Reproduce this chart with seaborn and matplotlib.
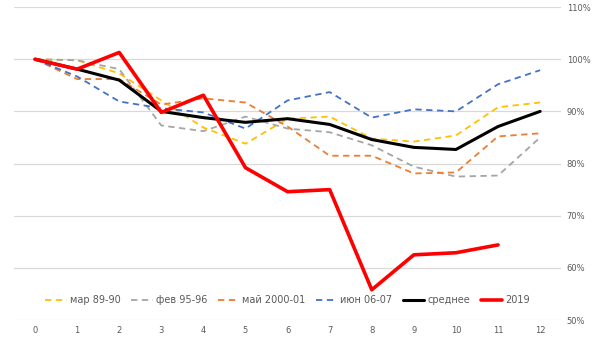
import matplotlib
matplotlib.use("Agg")
import matplotlib.pyplot as plt
import seaborn as sns
import pandas as pd
from matplotlib.ticker import FuncFormatter

months = list(range(13))
mar_89_90 = [100, 99.8, 97.3, 92.1, 86.9, 83.8, 88.6, 89.0, 84.8, 84.2, 85.4, 90.8, 91.7]
feb_95_96 = [100, 99.8, 98.1, 87.3, 86.2, 89.0, 86.7, 86.0, 83.5, 79.4, 77.5, 77.7, 85.0]
may_2000_01 = [100, 96.2, 96.2, 91.3, 92.5, 91.7, 87.1, 81.5, 81.5, 78.1, 78.3, 85.2, 85.8]
jun_06_07 = [100, 96.7, 91.9, 90.6, 89.8, 86.7, 92.1, 93.7, 88.8, 90.4, 90.0, 95.2, 97.9]
mean_vals = [100, 98.1, 96.0, 90.0, 88.8, 87.9, 88.6, 87.5, 84.6, 83.1, 82.7, 87.1, 90.0]
y2019 = [100, 98.1, 101.3, 89.8, 93.1, 79.2, 74.6, 75.0, 55.8, 62.5, 62.9, 64.4]

labels = ["мар 89-90", "фев 95-96", "май 2000-01", "июн 06-07", "среднее", "2019"]
series = [mar_89_90, feb_95_96, may_2000_01, jun_06_07, mean_vals, y2019]
colors = ["#FFC000", "#A5A5A5", "#ED7D31", "#4472C4", "#000000", "#FF0000"]
widths = [1.3, 1.3, 1.3, 1.3, 2.2, 2.6]
dashed = [True, True, True, True, False, False]
yticks = [50, 60, 70, 80, 90, 100, 110]

sns.set_theme(style="white")
plt.rcParams['font.family'] = ['DejaVu Sans']

fig = plt.figure(figsize=(6, 3.42), dpi=100)
ax = fig.add_axes([0.0233, 0.0643, 0.912, 0.915])

for lab, vals, c, w, d in zip(labels, series, colors, widths, dashed):
    df = pd.DataFrame({"m": months[:len(vals)], "v": vals})
    sns.lineplot(data=df, x="m", y="v", ax=ax, color=c, linewidth=w,
                 linestyle=(0, (3.5, 2.5)) if d else "-", label=lab)

ax.set_xlim(-0.5, 12.5)
ax.set_ylim(50, 110)
ax.set_xticks(months)
ax.set_yticks(yticks)
ax.yaxis.tick_right()
ax.yaxis.set_major_formatter(FuncFormatter(lambda v, p: f"{int(v)}%"))
ax.tick_params(axis="both", length=0, labelsize=6, colors="#595959", pad=4)
ax.grid(axis="y", color="#D9D9D9", linewidth=0.9)
ax.grid(axis="x", visible=False)
for s in ax.spines.values():
    s.set_visible(False)
ax.set_xlabel("")
ax.set_ylabel("")

leg = ax.legend(loc="lower center", bbox_to_anchor=(0.5, 0.02), ncol=6, frameon=False,
                fontsize=7, handlelength=2.2, columnspacing=1.1, handletextpad=0.3,
                labelcolor="#595959")

fig.savefig("out.png", dpi=100)
